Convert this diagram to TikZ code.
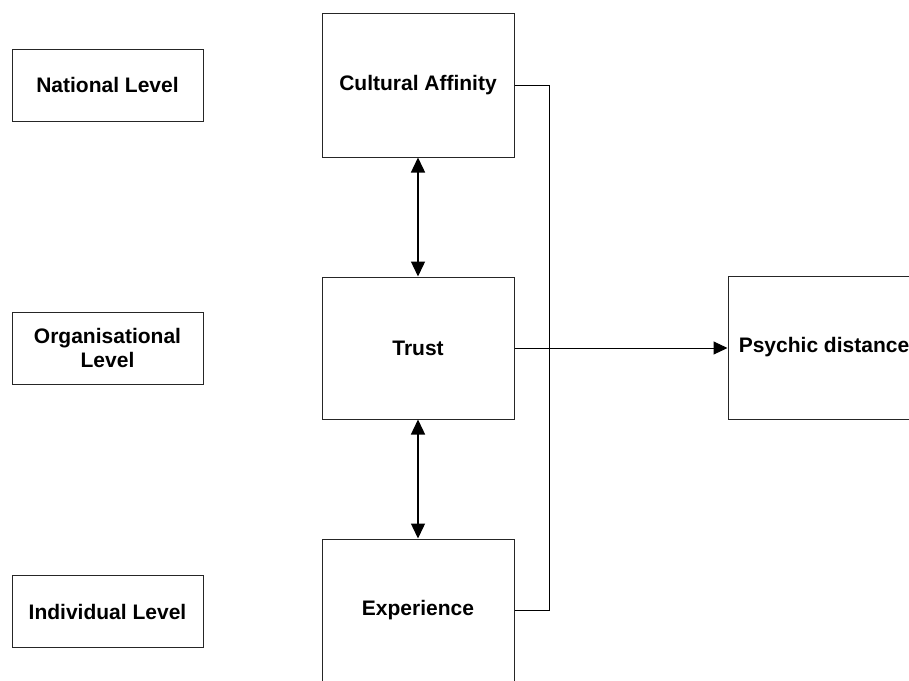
\documentclass[tikz,border=0pt]{standalone}
\usepackage{fontspec}
\setmainfont{Liberation Sans}
\usetikzlibrary{arrows.meta}
\begin{document}
\begin{tikzpicture}[x=1pt,y=-1pt,
  box/.style={draw=black!85,line width=1pt,fill=white,rectangle,inner sep=0pt,
    align=center,font=\fontsize{21}{24.5}\selectfont\bfseries},
  levelbox/.style={box,minimum width=191pt,minimum height=72pt},
  factorbox/.style={box,minimum width=192pt,minimum height=143pt},
  link/.style={line width=1pt,black},
  dlink/.style={line width=1.4pt,black},
  tip/.style={-{Triangle[length=14pt,width=13pt]}},
  dtip/.style={{Triangle[length=15pt,width=14pt]}-{Triangle[length=15pt,width=14pt]}}]
  \useasboundingbox (0,0) rectangle (909,680);
  \clip (0,0) rectangle (909,680);
  \fill[white] (0,0) rectangle (909,680);

  % levels of analysis
  \node[levelbox] (nat) at (107.5,85) {National Level};
  \node[levelbox] (org) at (107.5,348) {Organisational\\Level};
  \node[levelbox] (ind) at (107.5,611.5) {Individual Level};

  % factors
  \node[factorbox,minimum height=144pt] (ca) at (418,85) {Cultural Affinity};
  \node[factorbox,minimum height=142pt] (tr) at (418,348) {Trust};
  \node[factorbox,minimum height=142pt] (ex) at (418,610) {Experience};
  \node[factorbox,minimum height=143pt] (pd) at (824,347.5) {Psychic distance};

  % connectors
  \draw[dlink,dtip] (ca.south) -- (tr.north);
  \draw[dlink,dtip] (tr.south) -- (ex.north);
  \coordinate (bus) at (549,85);
  \draw[link] (ca.east) -- (bus) |- (ex.east);
  \draw[link,tip] (tr.east) -- (tr.east -| pd.west);
\end{tikzpicture}
\end{document}
